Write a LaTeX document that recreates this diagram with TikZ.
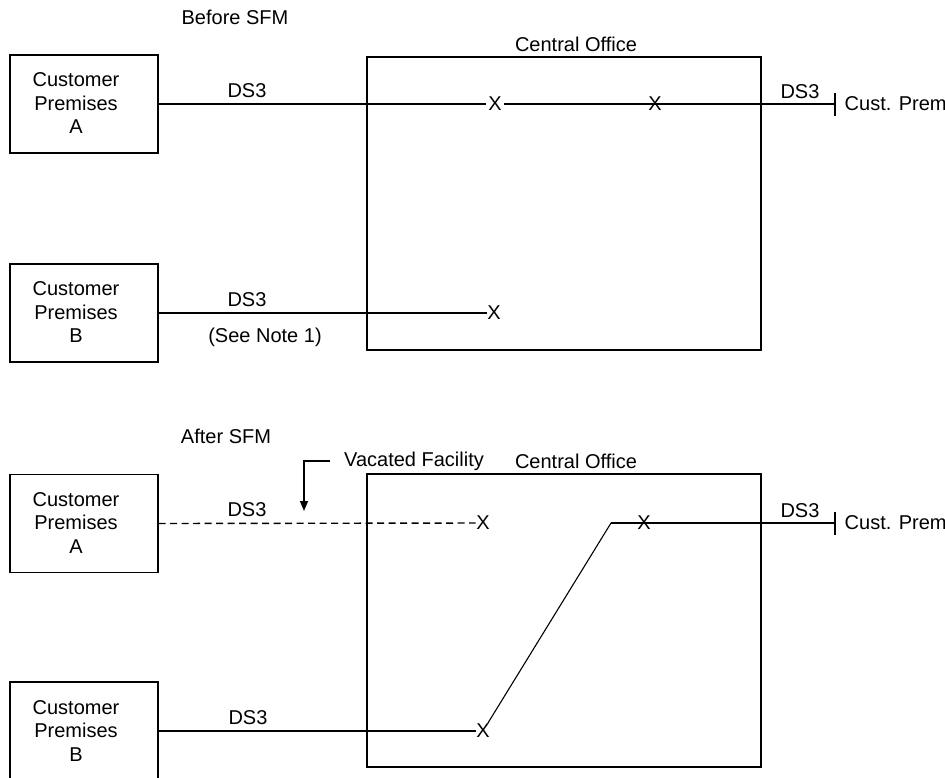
\documentclass[tikz,border=0pt]{standalone}
\usepackage{fontspec}
\setmainfont{Liberation Sans}
\usetikzlibrary{arrows.meta}
\begin{document}
\begin{tikzpicture}[x=1pt,y=-1pt,line width=1.4pt,
  box/.style={draw,minimum width=148pt,minimum height=98pt,inner sep=0pt},
  office/.style={draw,minimum width=394pt,minimum height=293pt,inner sep=0pt},
  lbl/.style={font=\fontsize{20}{23.5}\selectfont,inner sep=0pt,align=center},
  xmark/.style={font=\fontsize{20}{20}\selectfont,inner sep=0pt},
  vacated/.style={dash pattern=on 7pt off 4.5pt},
  diag/.style={line width=1.1pt}]
\useasboundingbox (0,0) rectangle (945,777);
\clip (0,0) rectangle (945,777);

% ---------- Before SFM ----------
\node[lbl] (before) at (235,17) {Before SFM};
\node[box] (A) at (84,104) {};
\node[lbl] (Atext) at (76,103.5) {Customer\\Premises\\A};
\node[office] (CO1) at (564,203.5) {};
\node[lbl] (co1lbl) at (576,44) {Central Office};
\node[xmark,fill=white,inner xsep=1.5pt] (x1) at (495,104) {X};
\node[xmark] (x2) at (655,104) {X};
\coordinate (tickA) at (835,104);
\draw (A.east) -- (x1);
\draw (x1) -- (tickA);
\draw ([yshift=-11.5pt]tickA) -- ([yshift=11.5pt]tickA);
\node[lbl] (ds3a) at (247,91) {DS3};
\node[lbl] (ds3r1) at (800,92) {DS3};
\node[lbl,anchor=west] (cp1) at (844,104) {Cust. Prem};

\node[box] (B) at (84,313) {};
\node[lbl] (Btext) at (76,312.5) {Customer\\Premises\\B};
\node[xmark] (x3) at (494,313) {X};
\draw (B.east) -- (x3);
\node[lbl] (ds3b) at (247,300) {DS3};
\node[lbl] (note) at (265,337) {(See Note 1)};

% ---------- After SFM ----------
\node[lbl] (after) at (226,436) {After SFM};
\node[box] (A2) at (84,523.5) {};
\node[lbl] (A2text) at (76,523) {Customer\\Premises\\A};
\node[office] (CO2) at (564,620.5) {};
\node[lbl] (co2lbl) at (576,461) {Central Office};
\node[lbl] (vacl) at (414,461) {Vacated Facility};
\coordinate (vtip) at (304,511);
\draw[-{Triangle[width=8pt,length=10pt]}] ([xshift=-13pt]vacl.west) -| (vtip);

\node[xmark] (x4) at (483,523) {X};
\draw[vacated] (A2.east) -- (x4);
\node[lbl] (ds3c) at (247,510) {DS3};

\node[xmark] (x5) at (644,523) {X};
\coordinate (bend) at (611,523);
\coordinate (tickB) at (835,523);
\node[lbl] (ds3r2) at (800,511) {DS3};
\node[lbl,anchor=west] (cp2) at (844,523) {Cust. Prem};

\node[box] (B2) at (84,731) {};
\node[lbl] (B2text) at (76,731) {Customer\\Premises\\B};
\node[xmark] (x6) at (483,731) {X};
\draw (B2.east) -- (x6);
\node[lbl] (ds3d) at (248,718) {DS3};
\draw[diag] (x6) -- (bend);
\draw (bend) -- (tickB);
\draw ([yshift=-11.5pt]tickB) -- ([yshift=11.5pt]tickB);
\end{tikzpicture}
\end{document}
